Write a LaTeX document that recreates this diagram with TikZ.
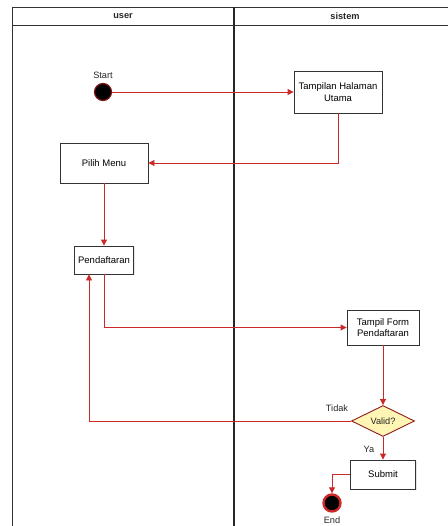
\documentclass[tikz,border=0pt]{standalone}
\usepackage{fontspec}
\setmainfont{Liberation Sans}
\usepackage{xcolor}
\usepackage{tikz}
\usetikzlibrary{shapes.geometric,arrows.meta,shadows}

\definecolor{alur}{RGB}{204,40,40}
\definecolor{kuning}{RGB}{255,245,180}

\tikzset{
  aksi/.style={draw=black!80, fill=white, line width=0.9, inner sep=0, align=center,
    font=\fontsize{9.5}{11.5}\selectfont,
    drop shadow={shadow xshift=1.2pt, shadow yshift=-1.2pt, fill=black!20}},
  panah/.style={alur, line width=0.9, -{Triangle[length=6, width=6]}},
  teks/.style={font=\fontsize{9.2}{11}\selectfont, text=black!85},
}

\begin{document}
\begin{tikzpicture}[x=1pt, y=-1pt]

\useasboundingbox (0,0) rectangle (447,526);

% lajur
\draw[black!80, line width=0.9] (12,530) -- (12,7) -- (450,7);
\draw[black!80, line width=0.9] (12,25) -- (450,25);
\draw[black!85, line width=1.1] (234,7) -- (234,530);
\node[teks, font=\fontsize{9.2}{11}\selectfont\bfseries] (user) at (123,16) {user};
\node[teks, font=\fontsize{9.2}{11}\selectfont\bfseries] (sistem) at (345,16) {sistem};

% simpul
\node[circle, fill=black, draw=alur!60!black, line width=1.2, minimum size=17, inner sep=0] (start) at (103,92) {};
\node[teks] (lblstart) at (103,75) {Start};

\node[aksi, minimum width=88, minimum height=42] (tampil) at (338,92) {Tampilan Halaman\\Utama};
\node[aksi, minimum width=88, minimum height=40] (pilih) at (104,163) {Pilih Menu};
\node[aksi, minimum width=59, minimum height=28] (daftar) at (104,260) {Pendaftaran};
\node[aksi, minimum width=72, minimum height=35] (form) at (383,327.5) {Tampil Form\\Pendaftaran};
\node[diamond, aspect=2, draw=alur!70!black, fill=kuning, line width=0.9, inner sep=0,
  minimum width=63, minimum height=31, teks] (valid) at (383,421) {Valid?};
\node[aksi, minimum width=65, minimum height=29] (submit) at (383,474.5) {Submit};

\node[circle, fill=black, draw=alur, line width=2.4, minimum size=17, inner sep=0] (end) at (332,503) {};
\node[teks] (lblend) at (332,520) {End};

% alur
\draw[panah] (start) -- (tampil);
\draw[panah] (tampil.south) |- (pilih.east);
\draw[panah] (pilih.south) -- (daftar.north);
\draw[panah] (daftar.south) |- (form.west);
\draw[panah] (form.south) -- (valid.north);
\draw[panah] (valid.west) -| ([xshift=-15pt]daftar.south);
\draw[panah] (valid.south) -- (submit.north);
\draw[panah] (submit.west) -| (end.north);

\node[teks] (tidak) at (337,408) {Tidak};
\node[teks] (ya) at (369,449) {Ya};

\end{tikzpicture}
\end{document}
